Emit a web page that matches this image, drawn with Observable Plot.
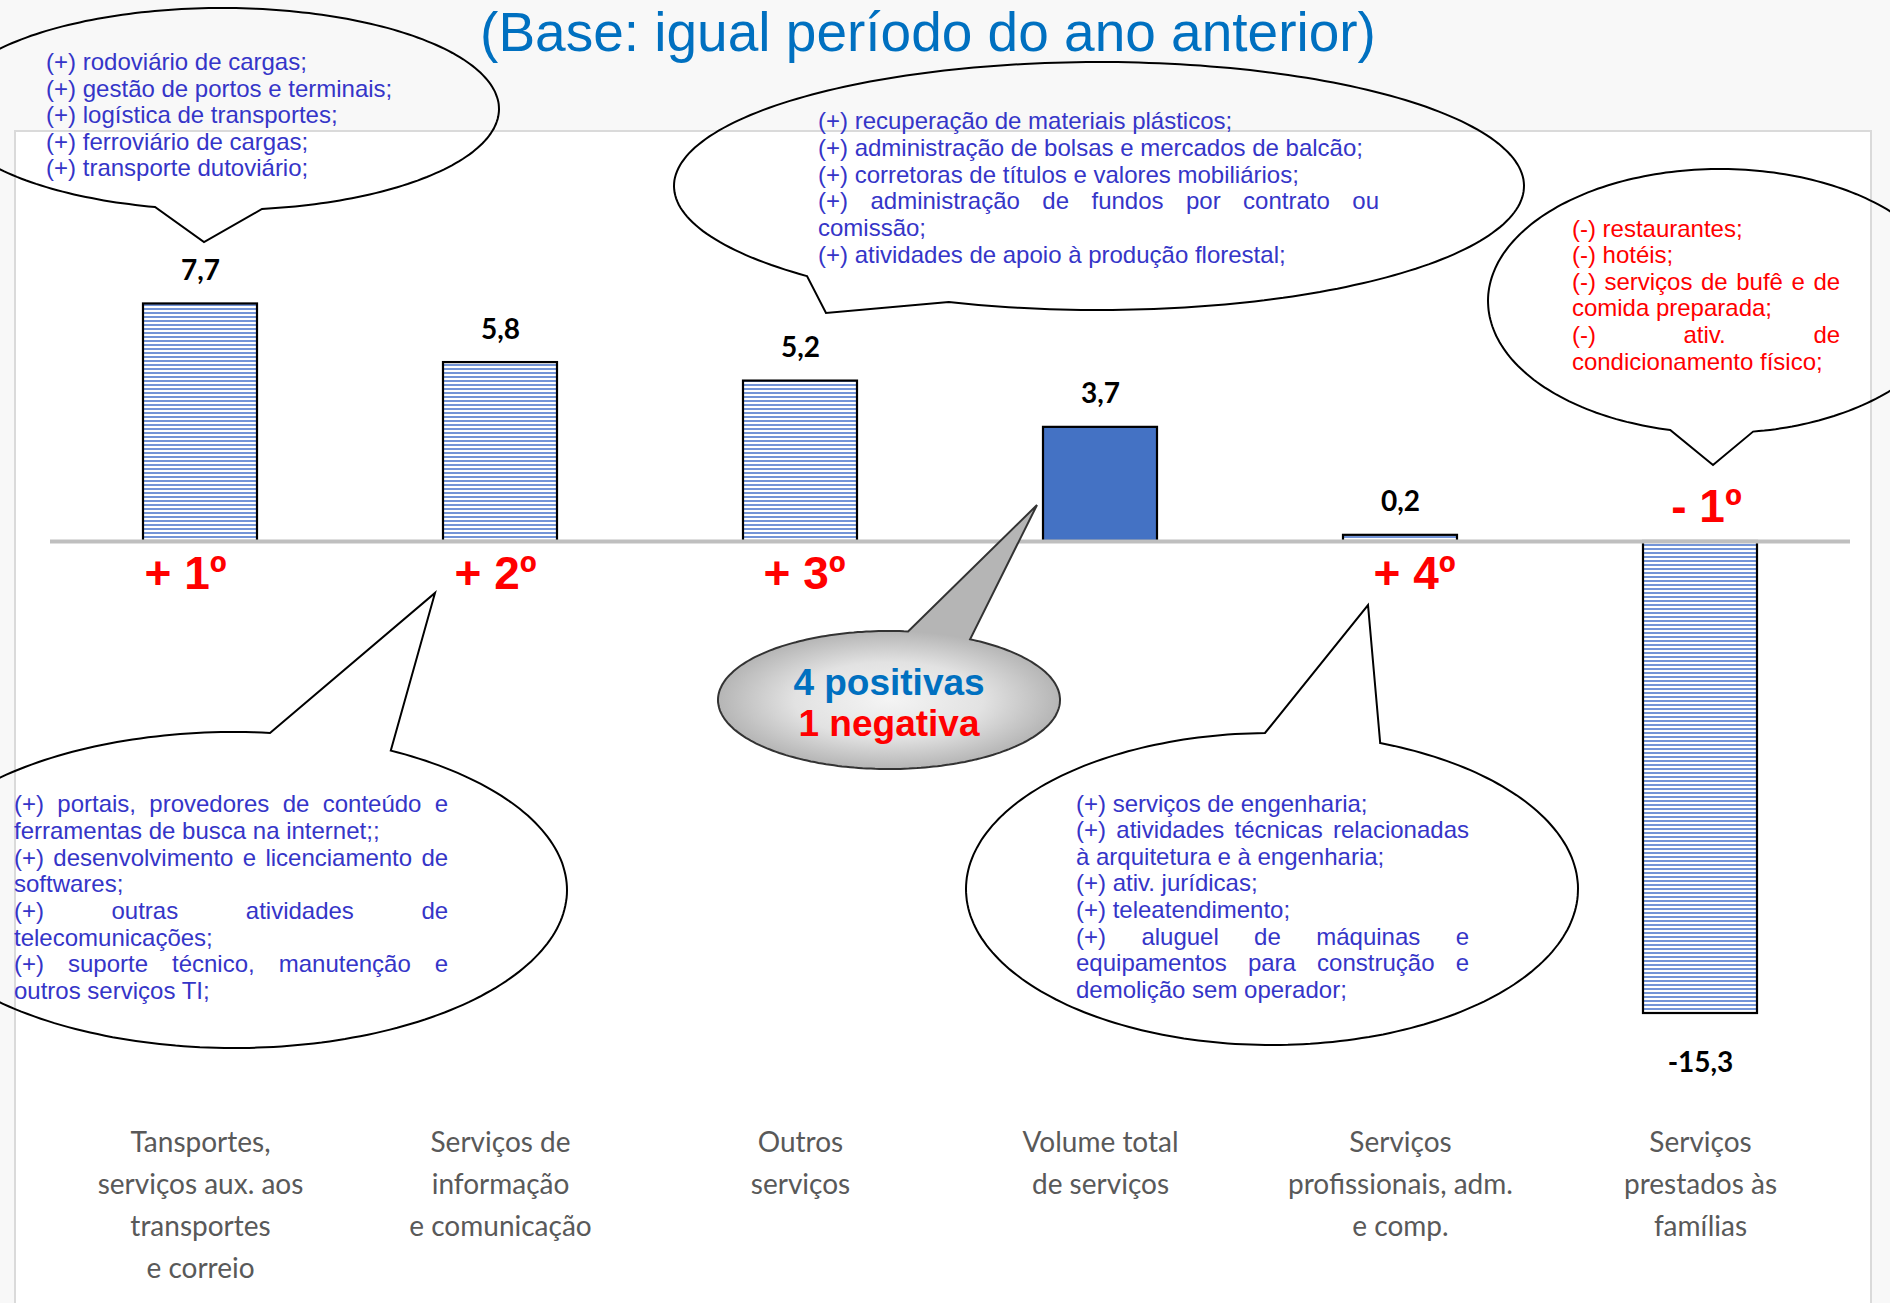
<!DOCTYPE html>
<html>
<head>
<meta charset="utf-8">
<script src="https://cdn.jsdelivr.net/npm/d3@7"></script>
<script src="https://cdn.jsdelivr.net/npm/@observablehq/plot@0.6"></script>
<style>
  html, body { margin: 0; padding: 0; background: #F8F8F8; }
  #wrap { position: relative; width: 1890px; height: 1303px; overflow: hidden; }
  #panel { position: absolute; left: 14px; top: 130px; width: 1858px; height: 1200px; background: #fff; border: 2px solid #DADADA; box-sizing: border-box; }
  #chart { position: absolute; left: 0; top: 0; }
  #title { position: absolute; top: 5px; left: 928px; transform: translateX(-50%); white-space: nowrap;
           font: 55px/1 "Liberation Sans", Arial, sans-serif; color: #0070C0; }
</style>
</head>
<body>
<div id="wrap">
  <div id="panel"></div>
  <div id="chart"></div>
  <div id="title">(Base: igual período do ano anterior)</div>
</div>
<script>
// ---------------- DATA ----------------
const categories = ["Transportes", "Informação e comunicação", "Outros serviços", "Volume total", "Profissionais", "Famílias"];
const values = [7.7, 5.8, 5.2, 3.7, 0.2, -15.3];
const categoryLabels = [
  "Tansportes,\nserviços aux. aos\ntransportes\ne correio",
  "Serviços de\ninformação\ne comunicação",
  "Outros\nserviços",
  "Volume total\nde serviços",
  "Serviços\nprofissionais, adm.\ne comp.",
  "Serviços\nprestados às\nfamílias"
];
const rankLabels = ["+ 1º", "+ 2º", "+ 3º", "", "+ 4º", "- 1º"];
const totalCategory = "Volume total";

const transportLines = ["(+) rodoviário de cargas;", "(+) gestão de portos e terminais;", "(+) logística de transportes;", "(+) ferroviário de cargas;", "(+) transporte dutoviário;"];
const outrosLines = ["(+) recuperação de materiais plásticos;", "(+) administração de bolsas e mercados de balcão;", "(+) corretoras de títulos e valores mobiliários;", "(+) administração de fundos por contrato ou", "comissão;", "(+) atividades de apoio à produção florestal;"];
const familiasLines = ["(-) restaurantes;", "(-) hotéis;", "(-) serviços de bufê e de", "comida preparada;", "(-) ativ. de", "condicionamento físico;"];
const infoLines = ["(+) portais, provedores de conteúdo e", "ferramentas de busca na internet;;", "(+) desenvolvimento e licenciamento de", "softwares;", "(+) outras atividades de", "telecomunicações;", "(+) suporte técnico, manutenção e", "outros serviços TI;"];
const profLines = ["(+) serviços de engenharia;", "(+) atividades técnicas relacionadas", "à arquitetura e à engenharia;", "(+) ativ. jurídicas;", "(+) teleatendimento;", "(+) aluguel de máquinas e", "equipamentos para construção e", "demolição sem operador;"];
const summaryLines = ["4 positivas", "1 negativa"];

// ---------------- LAYOUT / STYLE ----------------
const BLUE_TXT = "#3535C8", RED = "#FF0000";
const rankDx = [-15, -5, 4, 0, 14, 6];
const CAT_LABEL_Y = -18.83;   // data units
// callout geometry in data units: x in category steps from the first category centre, y in value units
const callouts = [
  {lines: transportLines, color: BLUE_TXT, cx: 0.0733, cy: 14.003, rx: 0.9233, ry: 3.274, gap: [81.7, 104], tip: [0.0133, 9.692], left: -0.513, top: 15.27, justify: []},
  {lines: outrosLines, color: BLUE_TXT, cx: 2.9967, cy: 11.507, rx: 1.4167, ry: 4.019, gap: [110.7, 133.4], tip: [2.0867, 7.391], left: 2.06, right: 3.93, top: 13.34, justify: [3]},
  {lines: familiasLines, color: RED, cx: 5.0667, cy: 7.78, rx: 0.7733, ry: 4.279, gap: [81.8, 102.4], tip: [5.0433, 2.464], left: 4.573, right: 5.467, top: 9.87, justify: [2, 4]},
  {lines: infoLines, color: BLUE_TXT, cx: 0.1133, cy: -11.313, rx: 1.11, ry: 5.122, gap: [-83.8, -61.9], tip: [0.7833, -1.686], left: -0.62, right: 0.827, top: -8.80, justify: [0, 2, 4, 6]},
  {lines: profLines, color: BLUE_TXT, cx: 3.5733, cy: -11.28, rx: 1.02, ry: 5.057, gap: [-91.3, -69.3], tip: [3.8933, -2.075], left: 2.92, right: 4.23, top: -8.77, justify: [1, 5, 6]},
  {lines: summaryLines, colors: ["#0070C0", RED], cx: 2.2967, cy: -5.154, rx: 0.57, ry: 2.237, gap: [-83.6, -61.7], tip: [2.79, 1.167], top: -4.99, center: true, gradient: true, fontSize: 37, fontWeight: "bold"}
];

const rows = categories.map((cat, i) => ({cat, value: values[i], label: categoryLabels[i], rank: rankLabels[i], i}));
const fmt = v => v.toFixed(1).replace(".", ",");

const measureCtx = document.createElement("canvas").getContext("2d");
function textWidth(str, font) { measureCtx.font = font; return measureCtx.measureText(str).width; }

function defsMark() {
  const g = d3.create("svg:g");
  const defs = g.append("defs");
  const pat = defs.append("pattern").attr("id", "hstripes").attr("patternUnits", "userSpaceOnUse")
    .attr("width", 8).attr("height", 4);
  pat.append("rect").attr("width", 8).attr("height", 4).attr("fill", "#ffffff");
  pat.append("rect").attr("width", 8).attr("height", 2).attr("fill", "#7394D7");
  return g.node();
}

function calloutMark(index, scales) {
  const xs = scales.x, ys = scales.y;
  const step = xs.step ? xs.step() : (xs(categories[1]) - xs(categories[0]));
  const bw = xs.bandwidth ? xs.bandwidth() : 0;
  const c0 = xs(categories[0]) + bw / 2;
  const X = u => c0 + u * step;
  const Y = v => ys(v);
  const k = Math.abs(ys(0) - ys(1));
  const g = d3.create("svg:g").attr("text-anchor", "start");
  const defs = g.append("defs");
  callouts.forEach((c, n) => {
    const cx = X(c.cx), cy = Y(c.cy), rx = c.rx * step, ry = c.ry * k;
    const [a1, a2] = c.gap;
    const pts = [];
    const N = 240;
    for (let j = 0; j <= N; j++) {
      const t = (a2 + (a1 + 360 - a2) * j / N) * Math.PI / 180;
      pts.push([cx + rx * Math.cos(t), cy + ry * Math.sin(t)]);
    }
    pts.push([X(c.tip[0]), Y(c.tip[1])]);
    const d = "M" + pts.map(p => p[0].toFixed(1) + "," + p[1].toFixed(1)).join("L") + "Z";
    let fill = "none";
    if (c.gradient) {
      const gr = defs.append("radialGradient").attr("id", "grad" + n).attr("gradientUnits", "userSpaceOnUse")
        .attr("cx", cx).attr("cy", cy).attr("r", rx)
        .attr("gradientTransform", `translate(${cx},${cy}) scale(1,${ry / rx}) translate(${-cx},${-cy})`);
      gr.append("stop").attr("offset", "0%").attr("stop-color", "#F4F4F4");
      gr.append("stop").attr("offset", "55%").attr("stop-color", "#E2E2E2");
      gr.append("stop").attr("offset", "100%").attr("stop-color", "#B5B5B5");
      fill = `url(#grad${n})`;
    }
    g.append("path").attr("d", d).attr("fill", fill).attr("stroke", c.gradient ? "#333" : "#000").attr("stroke-width", 2).attr("stroke-linejoin", "miter");

    const fs = c.fontSize || 24;
    const fw = c.fontWeight || "normal";
    const family = "Liberation Sans";
    const font = `${fw} ${fs}px "${family}"`;
    const lh = 1.11 * fs;
    c.lines.forEach((line, li) => {
      const yb = Y(c.top) + li * lh;
      const t = g.append("text").attr("y", yb).attr("font-family", `"${family}", Arial, sans-serif`)
        .attr("font-size", fs).attr("font-weight", fw).attr("fill", c.colors ? c.colors[li] : c.color)
        .attr("text-anchor", "start");
      if (c.center) {
        t.attr("x", cx).attr("text-anchor", "middle").text(line);
      } else if (c.justify.includes(li)) {
        const words = line.split(/\s+/);
        const L = X(c.left), R = X(c.right);
        const widths = words.map(w => textWidth(w, font));
        const total = d3.sum(widths);
        const gap = (R - L - total) / (words.length - 1);
        let xx = L;
        words.forEach((w, wi) => {
          t.append("tspan").attr("x", xx.toFixed(1)).attr("text-anchor", "start").text(w);
          xx += widths[wi] + gap;
        });
      } else {
        t.attr("x", X(c.left)).text(line);
      }
    });
  });
  return g.node();
}

const rankMarks = rows.filter(d => d.rank).map(d => Plot.text([d], {
  x: "cat", y: () => 0, text: "rank", lineAnchor: "bottom",
  dy: d.value >= 0 ? 47 : -20, dx: rankDx[d.i],
  fontSize: 46, fontWeight: "bold", fontFamily: "Liberation Sans, Arial, sans-serif", fill: RED
}));

const chart = Plot.plot({
  width: 1890, height: 1303,
  marginLeft: 50, marginRight: 40, marginTop: 0, marginBottom: 0,
  x: {domain: categories, paddingInner: 0.62, paddingOuter: 0.31, round: false, axis: null},
  y: {domain: [-24.70, 17.5365], axis: null},
  style: {background: "transparent", overflow: "visible"},
  marks: [
    defsMark,
    Plot.barY(rows.filter(d => d.cat !== totalCategory), {x: "cat", y: "value", fill: "url(#hstripes)", stroke: "#000", strokeWidth: 2.2}),
    Plot.barY(rows.filter(d => d.cat === totalCategory), {x: "cat", y: "value", fill: "#4472C4", stroke: "#000", strokeWidth: 2.2}),
    Plot.ruleY([0], {stroke: "#BFBFBF", strokeWidth: 4}),
    Plot.text(rows.filter(d => d.value >= 0), {x: "cat", y: "value", text: d => fmt(d.value), lineAnchor: "bottom", dy: -24,
      fontSize: 28, fontWeight: "bold", fontFamily: "Lato, sans-serif", fill: "#000"}),
    Plot.text(rows.filter(d => d.value < 0), {x: "cat", y: "value", text: d => fmt(d.value), lineAnchor: "bottom", dy: 58,
      fontSize: 28, fontWeight: "bold", fontFamily: "Lato, sans-serif", fill: "#000"}),
    ...rankMarks,
    Plot.text(rows, {x: "cat", y: () => CAT_LABEL_Y, text: "label", lineAnchor: "top", lineHeight: 1.5,
      fontSize: 28, fontFamily: "Lato, sans-serif", fill: "#595959"}),
    calloutMark
  ]
});
document.getElementById("chart").appendChild(chart);
</script>
</body>
</html>
